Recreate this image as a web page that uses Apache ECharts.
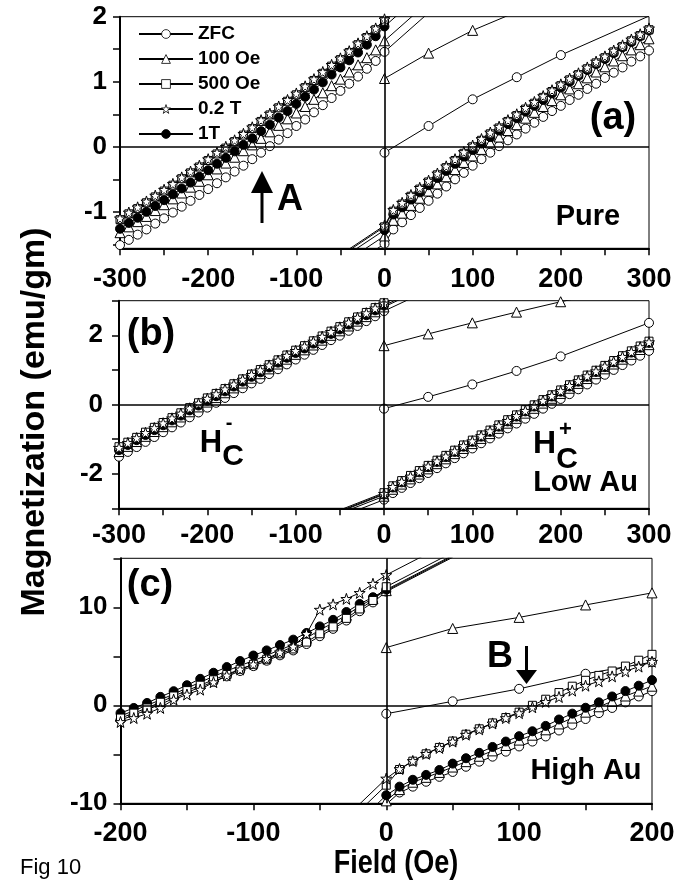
<!DOCTYPE html>
<html><head><meta charset="utf-8">
<script src="https://cdn.jsdelivr.net/npm/echarts@6/dist/echarts.min.js"></script>
<style>html,body{margin:0;padding:0;background:#fff}#chart{width:695px;height:886px}</style>
</head><body><div id="chart"></div>
<script>
// ---------- field (x) values ----------
const fieldAB_neg = [-300,-290,-280,-270,-260,-250,-240,-230,-220,-210,-200,-190,-180,-170,-160,-150,-140,-130,-120,-110,-100,-90,-80,-70,-60,-50,-40,-30,-20,-10,0];
const fieldAB_pos = [0,10,20,30,40,50,60,70,80,90,100,110,120,130,140,150,160,170,180,190,200,210,220,230,240,250,260,270,280,290,300];
const fieldC_neg = [-200,-190,-180,-170,-160,-150,-140,-130,-120,-110,-100,-90,-80,-70,-60,-50,-40,-30,-20,-10,0];
const fieldC_pos = [0,10,20,30,40,50,60,70,80,90,100,110,120,130,140,150,160,170,180,190,200];

// sample order: ZFC, 100 Oe, 500 Oe, 0.2 T, 1T
const sampleNames = ['ZFC','100 Oe','500 Oe','0.2 T','1T'];

// ---------- panel (a) Pure ----------
const a_zfc_down = [-1.51,-1.43,-1.35,-1.27,-1.18,-1.10,-1.01,-0.92,-0.83,-0.74,-0.65,-0.56,-0.47,-0.38,-0.29,-0.19,-0.09,0.01,0.11,0.21,0.32,0.42,0.53,0.64,0.75,0.86,0.97,1.08,1.20,1.32,1.46];
const a_100_down = [-1.32,-1.23,-1.15,-1.07,-0.98,-0.89,-0.80,-0.71,-0.62,-0.53,-0.43,-0.34,-0.25,-0.16,-0.06,0.03,0.13,0.23,0.33,0.43,0.52,0.62,0.73,0.83,0.94,1.04,1.15,1.26,1.37,1.49,1.63];
const a_500_down = [-1.12,-1.03,-0.95,-0.86,-0.77,-0.68,-0.59,-0.49,-0.40,-0.31,-0.21,-0.11,-0.02,0.08,0.18,0.28,0.39,0.49,0.60,0.70,0.80,0.91,1.02,1.13,1.24,1.34,1.45,1.57,1.68,1.80,1.93];
const a_02T_down = [-1.10,-1.01,-0.93,-0.84,-0.75,-0.66,-0.57,-0.47,-0.38,-0.29,-0.19,-0.09,0.00,0.10,0.20,0.30,0.41,0.51,0.62,0.72,0.82,0.93,1.04,1.15,1.26,1.36,1.47,1.59,1.70,1.82,1.96];
const a_1T_down  = [-1.26,-1.17,-1.09,-1.00,-0.91,-0.82,-0.73,-0.64,-0.55,-0.46,-0.36,-0.26,-0.17,-0.07,0.03,0.13,0.24,0.34,0.45,0.55,0.66,0.77,0.88,0.99,1.11,1.22,1.33,1.45,1.57,1.70,1.85];
const a_zfc_up = [-1.49,-1.27,-1.16,-1.05,-0.94,-0.83,-0.72,-0.61,-0.50,-0.40,-0.29,-0.19,-0.09,0.01,0.10,0.19,0.28,0.37,0.46,0.55,0.63,0.72,0.80,0.89,0.97,1.06,1.14,1.22,1.31,1.39,1.48];
const a_100_up = [-1.37,-1.13,-1.02,-0.90,-0.79,-0.68,-0.57,-0.46,-0.35,-0.24,-0.14,-0.04,0.06,0.15,0.25,0.34,0.44,0.53,0.62,0.71,0.80,0.89,0.97,1.06,1.15,1.23,1.32,1.40,1.49,1.57,1.66];
const a_500_up = [-1.23,-0.99,-0.88,-0.76,-0.65,-0.54,-0.43,-0.32,-0.21,-0.10,0.00,0.10,0.20,0.29,0.39,0.48,0.58,0.67,0.76,0.85,0.94,1.03,1.11,1.20,1.29,1.37,1.46,1.54,1.63,1.71,1.80];
const a_02T_up = [-1.21,-0.97,-0.86,-0.74,-0.63,-0.52,-0.41,-0.30,-0.19,-0.08,0.02,0.12,0.22,0.31,0.41,0.50,0.60,0.69,0.78,0.87,0.96,1.05,1.13,1.22,1.31,1.39,1.48,1.56,1.65,1.73,1.82];
const a_1T_up  = [-1.28,-1.04,-0.93,-0.81,-0.70,-0.59,-0.48,-0.37,-0.26,-0.15,-0.05,0.05,0.15,0.25,0.35,0.44,0.54,0.63,0.72,0.82,0.91,1.00,1.09,1.18,1.27,1.35,1.44,1.53,1.61,1.70,1.79];
const a_downStart = [2.06, 2.23, 2.53, 2.56, 2.45];     // at +50 Oe (off scale)
const a_upStart   = [-1.94, -1.82, -1.68, -1.66, -1.73]; // at -50 Oe (off scale)
const a_zfcVirginField = [0,50,100,150,200,300];
const a_zfc_virgin     = [-0.09,0.32,0.73,1.07,1.41,2.01];
const a_100VirginField = [0,50,100,200];
const a_100_virgin     = [1.05,1.44,1.79,2.36];

// ---------- panel (b) Low Au ----------
const b_zfc_down = [-1.51,-1.37,-1.23,-1.08,-0.94,-0.80,-0.66,-0.52,-0.37,-0.23,-0.09,0.05,0.19,0.33,0.47,0.61,0.74,0.88,1.02,1.16,1.30,1.44,1.58,1.72,1.86,1.99,2.13,2.27,2.41,2.55,2.70];
const b_100_down = [-1.36,-1.21,-1.07,-0.92,-0.78,-0.64,-0.50,-0.36,-0.21,-0.07,0.07,0.20,0.34,0.48,0.62,0.76,0.89,1.03,1.17,1.31,1.45,1.58,1.72,1.86,2.00,2.13,2.27,2.41,2.54,2.68,2.82];
const b_500_down = [-1.22,-1.09,-0.95,-0.80,-0.66,-0.52,-0.38,-0.24,-0.09,0.05,0.19,0.32,0.46,0.60,0.74,0.88,1.01,1.15,1.29,1.43,1.57,1.70,1.84,1.98,2.12,2.25,2.39,2.53,2.66,2.80,2.94];
const b_02T_down = [-1.25,-1.11,-0.97,-0.82,-0.68,-0.54,-0.40,-0.26,-0.11,0.03,0.17,0.30,0.44,0.58,0.72,0.86,0.99,1.13,1.27,1.41,1.55,1.68,1.82,1.96,2.10,2.23,2.37,2.51,2.64,2.78,2.92];
const b_1T_down  = [-1.32,-1.17,-1.03,-0.88,-0.74,-0.60,-0.46,-0.32,-0.17,-0.03,0.11,0.24,0.38,0.52,0.66,0.80,0.93,1.07,1.21,1.35,1.49,1.62,1.76,1.90,2.04,2.17,2.31,2.45,2.58,2.72,2.86];
const b_zfc_up = [-2.75,-2.56,-2.41,-2.27,-2.13,-1.98,-1.84,-1.70,-1.55,-1.41,-1.27,-1.12,-0.98,-0.84,-0.69,-0.55,-0.41,-0.27,-0.12,0.02,0.16,0.30,0.44,0.58,0.72,0.86,1.00,1.14,1.27,1.41,1.55];
const b_100_up = [-2.65,-2.45,-2.30,-2.15,-2.01,-1.86,-1.71,-1.57,-1.42,-1.27,-1.13,-0.98,-0.84,-0.69,-0.54,-0.40,-0.25,-0.11,0.04,0.18,0.32,0.47,0.61,0.75,0.89,1.03,1.17,1.31,1.45,1.59,1.73];
const b_500_up = [-2.55,-2.35,-2.20,-2.05,-1.91,-1.76,-1.61,-1.47,-1.32,-1.17,-1.03,-0.88,-0.74,-0.59,-0.44,-0.30,-0.15,-0.01,0.14,0.28,0.42,0.57,0.71,0.85,0.99,1.13,1.27,1.41,1.55,1.69,1.83];
const b_02T_up = [-2.58,-2.38,-2.23,-2.08,-1.94,-1.79,-1.64,-1.50,-1.35,-1.20,-1.06,-0.91,-0.77,-0.62,-0.47,-0.33,-0.18,-0.04,0.11,0.25,0.39,0.54,0.68,0.82,0.96,1.10,1.24,1.38,1.52,1.66,1.80];
const b_1T_up  = [-2.60,-2.40,-2.25,-2.10,-1.96,-1.81,-1.66,-1.52,-1.37,-1.22,-1.08,-0.93,-0.79,-0.64,-0.49,-0.35,-0.20,-0.06,0.09,0.23,0.37,0.52,0.66,0.80,0.94,1.08,1.22,1.36,1.50,1.64,1.78];
const b_downStart = [3.30, 3.42, 3.54, 3.52, 3.46];
const b_upStart   = [-3.25, -3.15, -3.05, -3.08, -3.10];
const b_zfcVirginField = [0,50,100,150,200,300];
const b_zfc_virgin     = [-0.12,0.22,0.58,0.97,1.39,2.36];
const b_100VirginField = [0,50,100,150,200,300];
const b_100_virgin     = [1.70,2.04,2.36,2.67,2.97,3.50];

// ---------- panel (c) High Au ----------
const c_zfc_down = [-1.50,-1.00,-0.45,0.10,0.70,1.30,1.85,2.40,2.95,3.50,4.00,4.55,5.10,5.60,6.25,7.05,7.80,8.65,9.60,10.50,11.60];
const c_100_down = [-1.10,-0.55,0.00,0.55,1.15,1.75,2.35,2.95,3.50,4.05,4.55,5.10,5.65,6.20,6.85,7.70,8.40,9.20,10.10,10.90,11.70];
const c_500_down = [-1.30,-0.80,-0.27,0.31,0.95,1.50,2.05,2.60,3.15,3.68,4.18,4.70,5.25,5.75,6.45,7.30,8.00,8.87,9.83,10.70,12.10];
const c_02T_down = [-1.70,-1.30,-0.86,-0.27,0.58,1.10,1.60,2.36,3.05,3.66,4.18,4.75,5.40,6.00,7.30,9.76,10.30,10.86,11.47,12.40,13.30];
const c_1T_down  = [-0.80,-0.27,0.24,0.86,1.44,2.05,2.70,3.32,3.90,4.52,5.08,5.60,6.15,6.70,7.38,8.05,8.72,9.52,10.34,11.03,11.80];
const c_zfc_up = [-10.10,-8.90,-8.30,-7.80,-7.30,-6.80,-6.27,-5.75,-5.24,-4.73,-4.20,-3.70,-3.18,-2.57,-1.99,-1.40,-0.80,-0.27,0.30,0.90,1.44];
const c_100_up = [-9.75,-8.60,-7.85,-7.35,-6.85,-6.30,-5.75,-5.20,-4.65,-4.10,-3.55,-3.05,-2.50,-1.90,-1.30,-0.70,-0.15,0.40,0.95,1.45,1.95];
const c_500_up = [-8.15,-6.55,-5.70,-4.95,-4.30,-3.65,-2.95,-2.40,-1.80,-1.25,-0.70,0.00,0.62,1.30,1.95,2.55,3.05,3.50,4.00,4.60,5.20];
const c_02T_up = [-7.47,-6.50,-5.68,-4.95,-4.35,-3.70,-3.00,-2.45,-1.85,-1.30,-0.80,-0.20,0.35,0.85,1.50,2.00,2.45,2.95,3.45,3.95,4.45];
const c_1T_up  = [-9.18,-8.30,-7.60,-7.10,-6.60,-5.95,-5.40,-4.85,-4.25,-3.70,-3.15,-2.65,-2.10,-1.45,-0.85,-0.25,0.30,0.90,1.45,2.00,2.57];
const c_downStart = [15.1, 15.2, 15.6, 16.8, 15.3];
const c_upStart   = [-12.70, -12.35, -10.75, -10.07, -11.78];
const c_zfcVirginField = [0,50,100,150,200];
const c_zfc_virgin     = [-0.86,0.41,1.68,3.22,4.40];
const c_100VirginField = [0,50,100,150,200];
const c_100_virgin     = [5.89,7.84,8.97,10.24,11.47];

// ---------- tick labels ----------
const a_yTicks = [-1.5,-1,-0.5,0,0.5,1,1.5,2];
const a_yLabels = [-1,0,1,2];

// ---------- build ----------
const FONT = 'Liberation Sans, Arial, Helvetica, sans-serif';
const STAR = 'path://M50,2 L61.8,36.2 L97.6,36.2 L68.6,57.5 L79.4,92 L50,71 L20.6,92 L31.4,57.5 L2.4,36.2 L38.2,36.2 Z';
const styles = [
  {symbol:'circle', size:9, fill:'#fff'},
  {symbol:'triangle', size:10, fill:'#fff'},
  {symbol:'rect', size:8, fill:'#fff'},
  {symbol:STAR, size:11, fill:'#fff'},
  {symbol:'circle', size:9, fill:'#000'}
];
const panels = [
  {negF:fieldAB_neg, posF:fieldAB_pos,
   down:[a_zfc_down,a_100_down,a_500_down,a_02T_down,a_1T_down],
   up:[a_zfc_up,a_100_up,a_500_up,a_02T_up,a_1T_up],
   downStart:a_downStart, downStartF:50, upStart:a_upStart, upStartF:-50,
   virgin:[[a_zfcVirginField,a_zfc_virgin,0],[a_100VirginField,a_100_virgin,1]]},
  {negF:fieldAB_neg, posF:fieldAB_pos,
   down:[b_zfc_down,b_100_down,b_500_down,b_02T_down,b_1T_down],
   up:[b_zfc_up,b_100_up,b_500_up,b_02T_up,b_1T_up],
   downStart:b_downStart, downStartF:50, upStart:b_upStart, upStartF:-50,
   virgin:[[b_zfcVirginField,b_zfc_virgin,0],[b_100VirginField,b_100_virgin,1]]},
  {negF:fieldC_neg, posF:fieldC_pos,
   down:[c_zfc_down,c_100_down,c_500_down,c_02T_down,c_1T_down],
   up:[c_zfc_up,c_100_up,c_500_up,c_02T_up,c_1T_up],
   downStart:c_downStart, downStartF:50, upStart:c_upStart, upStartF:-20,
   virgin:[[c_zfcVirginField,c_zfc_virgin,0],[c_100VirginField,c_100_virgin,1]]}
];
function pairs(xs, ys){ return xs.map((x,i)=>[x, ys[i]]); }
function mk(gi, si, data){
  const s = styles[si];
  return {type:'line', name:sampleNames[si], xAxisIndex:gi, yAxisIndex:gi, data,
    symbol:s.symbol, symbolSize:s.size, showAllSymbol:true, clip:true, z:3,
    lineStyle:{color:'#000', width:1}, itemStyle:{color:s.fill, borderColor:'#000', borderWidth:1},
    emphasis:{disabled:true}, silent:true};
}
const drawOrder = [0,1,4,2,3];
const series = [];
panels.forEach((p, gi) => {
  series.push({type:'line', xAxisIndex:gi, yAxisIndex:gi, data:[], z:2, silent:true,
    markLine:{silent:true, symbol:['none','none'], label:{show:false}, animation:false,
      lineStyle:{color:'#000', width:1.6, type:'solid'}, emphasis:{disabled:true},
      data:[{xAxis:0},{yAxis:0}]}});
  p.virgin.forEach(v => series.push(mk(gi, v[2], pairs(v[0], v[1]))));
  drawOrder.forEach(si => {
    const down = [[p.downStartF, p.downStart[si]]].concat(pairs(p.negF, p.down[si]).reverse());
    const up = [[p.upStartF, p.upStart[si]]].concat(pairs(p.posF, p.up[si]));
    series.push(mk(gi, si, down));
    series.push(mk(gi, si, up));
  });
});

const grids = [
  {left:120, top:16.7, width:529, height:231.6},
  {left:119, top:300.7, width:530, height:207.6},
  {left:120.5, top:558.3, width:531.5, height:245}
];
grids.forEach(g => Object.assign(g, {show:true, borderColor:'#000', borderWidth:1, backgroundColor:'transparent'}));

const xLabelMargins = [18, 14, 17];
const xRanges = [[-300,300],[-300,300],[-200,200]];
const xAxes = xRanges.map((r, gi) => ({
  type:'value', gridIndex:gi, min:r[0], max:r[1], interval:50,
  axisLine:{onZero:false, lineStyle:{color:'#000', width:2}},
  axisTick:{inside:false, length:7, lineStyle:{color:'#000', width:1.5}},
  splitLine:{show:false},
  axisLabel:{formatter:v => (v % 100 === 0 ? String(v) : ''), fontSize:27, fontWeight:'bold',
    fontFamily:FONT, color:'#000', margin:xLabelMargins[gi]}
}));
const yLabelBase = {fontSize:26, fontWeight:'bold', fontFamily:FONT, color:'#000', margin:13};
const yAxes = [
  {type:'value', gridIndex:0, min:-1.56, max:2,
   axisTick:{customValues:a_yTicks}, axisLabel:Object.assign({customValues:a_yLabels}, yLabelBase)},
  {type:'value', gridIndex:1, min:-3, max:3, interval:1,
   axisLabel:Object.assign({formatter:v => (v % 2 === 0 && Math.abs(v) < 3 ? String(v) : '')}, yLabelBase, {margin:16})},
  {type:'value', gridIndex:2, min:-10, max:15, interval:5,
   axisLabel:Object.assign({formatter:v => (v % 10 === 0 ? String(v) : '')}, yLabelBase)}
];
yAxes.forEach(a => {
  a.axisLine = {onZero:false, lineStyle:{color:'#000', width:2}};
  a.axisTick = Object.assign({inside:false, length:7, lineStyle:{color:'#000', width:1.5}}, a.axisTick || {});
  a.splitLine = {show:false};
});

function T(text, x, y, size, o){
  o = o || {};
  return {type:'text', x, y, scaleX:o.sx || 1, scaleY:o.sy || 1, rotation:o.rot || 0, z:100, silent:true,
    style:{text, fill:'#000', font:(o.w || 'bold') + ' ' + size + 'px ' + FONT,
      textAlign:o.align || 'center', textVerticalAlign:'middle'}};
}
const graphics = [
  T('(a)', 613, 119, 38),
  T('Pure', 588, 217, 29),
  T('A', 290, 200, 36),
  T('(b)', 151, 335, 38),
  T('H', 211, 443.5, 31), T('C', 233, 457, 30), T('-', 229, 423, 20),
  T('H', 544.5, 444.5, 32), T('+', 565.5, 429.5, 22), T('C', 567, 460, 30),
  T('Low Au', 585.5, 482.5, 29),
  T('(c)', 150, 586, 38),
  T('B', 500, 657, 36),
  T('High Au', 586, 771, 29),
  T('Field (Oe)', 396, 864, 30, {sx:0.9, sy:1.1}),
  T('Magnetization (emu/gm)', 35, 422, 34, {rot:Math.PI/2}),
  T('Fig 10', 20, 868, 22, {w:'normal', align:'left'}),
  {type:'line', z:100, silent:true, shape:{x1:262, y1:223, x2:262, y2:190}, style:{stroke:'#000', lineWidth:3}},
  {type:'polygon', z:100, silent:true, shape:{points:[[251,193],[273,193],[262,171]]}, style:{fill:'#000'}},
  {type:'line', z:100, silent:true, shape:{x1:526.5, y1:646, x2:526.5, y2:672}, style:{stroke:'#000', lineWidth:3}},
  {type:'polygon', z:100, silent:true, shape:{points:[[516,670],[537,670],[526.5,684]]}, style:{fill:'#000'}}
];

const chart = echarts.init(document.getElementById('chart'), null, {renderer:'canvas'});
chart.setOption({
  animation:false,
  backgroundColor:'#fff',
  grid:grids, xAxis:xAxes, yAxis:yAxes, series,
  legend:{data:sampleNames, orient:'vertical', left:138, top:24, padding:0,
    itemWidth:54, itemHeight:11, itemGap:5, selectedMode:false,
    itemStyle:{borderWidth:0.8},
    textStyle:{fontSize:19, fontWeight:'bold', fontFamily:FONT, color:'#000', lineHeight:20}},
  graphic:graphics
});
</script></body></html>
